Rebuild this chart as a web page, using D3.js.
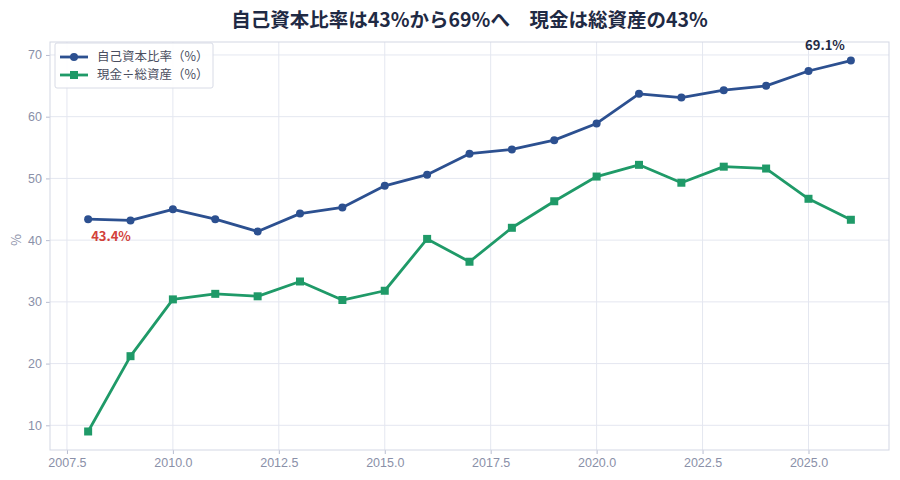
<!DOCTYPE html>
<html>
<head>
<meta charset="utf-8">
<script src="https://cdn.jsdelivr.net/npm/d3@7"></script>
<style>
  body { margin: 0; background: #fff; }
  svg { font-family: "Noto Sans CJK JP", "Noto Sans", sans-serif; }
</style>
</head>
<body>
<div id="chart"></div>
<script>
// data
const years = [2008, 2009, 2010, 2011, 2012, 2013, 2014, 2015, 2016, 2017,
               2018, 2019, 2020, 2021, 2022, 2023, 2024, 2025, 2026];
const equityRatio = [43.4, 43.2, 45.0, 43.4, 41.4, 44.3, 45.3, 48.8, 50.6, 54.0,
                     54.7, 56.2, 58.9, 63.7, 63.1, 64.3, 65.0, 67.4, 69.1];
const cashRatio = [9.0, 21.2, 30.4, 31.3, 30.9, 33.3, 30.3, 31.8, 40.2, 36.5,
                   42.0, 46.3, 50.3, 52.2, 49.3, 51.9, 51.6, 46.7, 43.3];
const xTicks = [2007.5, 2010.0, 2012.5, 2015.0, 2017.5, 2020.0, 2022.5, 2025.0];
const yTicks = [10, 20, 30, 40, 50, 60, 70];
const seriesNames = ["自己資本比率（%）", "現金÷総資産（%）"];

const width = 900, height = 480;
const margin = { top: 42, right: 11, bottom: 30, left: 50 };

const blue = "#2c5090";
const green = "#1f9a68";
const tickColor = "#8a90a8";

const svg = d3.select("#chart").append("svg")
    .attr("width", width)
    .attr("height", height);

const x = d3.scaleLinear()
    .domain([2007.1, 2026.9])
    .range([margin.left, width - margin.right]);

const y = d3.scaleLinear()
    .domain([6.0, 72.1])
    .range([height - margin.bottom, margin.top]);

// grid
svg.append("g").selectAll("line.vg")
    .data(xTicks).enter().append("line")
    .attr("x1", d => x(d)).attr("x2", d => x(d))
    .attr("y1", margin.top).attr("y2", height - margin.bottom)
    .attr("stroke", "#e4e7f0").attr("stroke-width", 1);

svg.append("g").selectAll("line.hg")
    .data(yTicks).enter().append("line")
    .attr("x1", margin.left).attr("x2", width - margin.right)
    .attr("y1", d => y(d)).attr("y2", d => y(d))
    .attr("stroke", "#e4e7f0").attr("stroke-width", 1);

// axes
const xAxis = svg.append("g")
    .attr("transform", "translate(0," + (height - margin.bottom) + ")")
    .call(d3.axisBottom(x).tickValues(xTicks).tickFormat(d3.format(".1f")).tickSize(4).tickPadding(4));

const yAxis = svg.append("g")
    .attr("transform", "translate(" + margin.left + ",0)")
    .call(d3.axisLeft(y).tickValues(yTicks).tickSize(4).tickPadding(4));

[xAxis, yAxis].forEach(function (ax) {
    ax.select(".domain").remove();
    ax.selectAll("line").attr("stroke", "#b8bdd0");
    ax.selectAll("text").attr("fill", tickColor).style("font-size", "12.5px");
});

// frame
svg.append("rect")
    .attr("x", margin.left).attr("y", margin.top)
    .attr("width", width - margin.left - margin.right)
    .attr("height", height - margin.top - margin.bottom)
    .attr("fill", "none")
    .attr("stroke", "#d3d7e4").attr("stroke-width", 1);

// y label
svg.append("text")
    .attr("transform", "translate(21," + y(40) + ") rotate(-90)")
    .attr("text-anchor", "middle")
    .attr("fill", tickColor)
    .style("font-size", "13px")
    .text("%");

// lines
const line = d3.line()
    .x((d, i) => x(years[i]))
    .y(d => y(d));

svg.append("path")
    .datum(cashRatio)
    .attr("d", line)
    .attr("fill", "none")
    .attr("stroke", green)
    .attr("stroke-width", 2.8)
    .attr("stroke-linejoin", "round");

svg.append("g").selectAll("rect")
    .data(cashRatio).enter().append("rect")
    .attr("x", (d, i) => x(years[i]) - 4)
    .attr("y", d => y(d) - 4)
    .attr("width", 8).attr("height", 8)
    .attr("fill", green);

svg.append("path")
    .datum(equityRatio)
    .attr("d", line)
    .attr("fill", "none")
    .attr("stroke", blue)
    .attr("stroke-width", 2.8)
    .attr("stroke-linejoin", "round");

svg.append("g").selectAll("circle")
    .data(equityRatio).enter().append("circle")
    .attr("cx", (d, i) => x(years[i]))
    .attr("cy", d => y(d))
    .attr("r", 4)
    .attr("fill", blue);

// annotations
svg.append("text")
    .attr("x", x(years[0]) + 3)
    .attr("y", y(equityRatio[0]) + 22)
    .attr("fill", "#d2413a")
    .attr("font-weight", "bold")
    .style("font-size", "13px")
    .text(equityRatio[0].toFixed(1) + "%");

const last = years.length - 1;
svg.append("text")
    .attr("x", x(years[last]) - 6)
    .attr("y", y(equityRatio[last]) - 11)
    .attr("text-anchor", "end")
    .attr("fill", "#1f2a44")
    .attr("font-weight", "bold")
    .style("font-size", "13px")
    .text(equityRatio[last].toFixed(1) + "%");

// title
svg.append("text")
    .attr("x", (margin.left + width - margin.right) / 2)
    .attr("y", 27)
    .attr("text-anchor", "middle")
    .attr("fill", "#1f2a44")
    .attr("font-weight", "bold")
    .style("font-size", "19.5px")
    .text("自己資本比率は43%から69%へ　現金は総資産の43%");

// legend
const legend = svg.append("g").attr("transform", "translate(55,43)");
legend.append("rect")
    .attr("width", 158).attr("height", 45)
    .attr("rx", 2)
    .attr("fill", "#fff").attr("fill-opacity", 0.9)
    .attr("stroke", "#d8dbe6");

const colors = [blue, green];
seriesNames.forEach(function (name, i) {
    const row = legend.append("g").attr("transform", "translate(0," + (14 + i * 18) + ")");
    row.append("line")
        .attr("x1", 5).attr("x2", 33)
        .attr("stroke", colors[i]).attr("stroke-width", 2.8);
    if (i === 0) {
        row.append("circle").attr("cx", 19).attr("r", 4).attr("fill", colors[i]);
    } else {
        row.append("rect").attr("x", 15).attr("y", -4).attr("width", 8).attr("height", 8).attr("fill", colors[i]);
    }
    row.append("text")
        .attr("x", 42).attr("dy", "0.35em")
        .attr("fill", "#4a4e60")
        .style("font-size", "12.5px")
        .text(name);
});
</script>
</body>
</html>
